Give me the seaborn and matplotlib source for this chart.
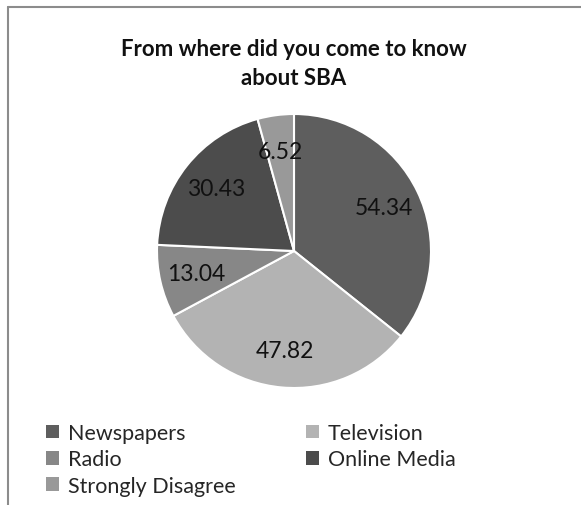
import matplotlib
matplotlib.use("Agg")
import matplotlib.pyplot as plt
import seaborn as sns
import numpy as np
from matplotlib.lines import Line2D
from matplotlib.patches import Patch

sns.set_theme(style="white")
plt.rcParams['font.family'] = ['Lato', 'DejaVu Sans']

categories = ["Newspapers", "Television", "Radio", "Online Media", "Strongly Disagree"]
values = [54.34, 47.82, 13.04, 30.43, 6.52]
labels = ["54.34", "47.82", "13.04", "30.43", "6.52"]
colors = ["#5e5e5e", "#b3b3b3", "#878787", "#4c4c4c", "#999999"]
title = "From where did you come to know\nabout SBA"

fig = plt.figure(figsize=(5.81, 5.06), dpi=100)
ax = fig.add_axes([(294 - 137) / 581, 1 - (252 + 137) / 506, 274 / 581, 274 / 506])

wedges, _ = ax.pie(values, colors=colors, startangle=90, counterclock=False,
                   wedgeprops=dict(edgecolor="white", linewidth=1.5))
for w, lab in zip(wedges, labels):
    mid = np.deg2rad((w.theta1 + w.theta2) / 2)
    r = 0.73
    ax.text(r * np.cos(mid), r * np.sin(mid), lab, ha="center", va="center",
            fontsize=16.5, color="#111111")
ax.set_aspect("equal")
ax.set_xlim(-1, 1)
ax.set_ylim(-1, 1)

fig.text(294 / 581, 1 - 64 / 506, title, ha="center", va="center",
         fontsize=16, fontweight="bold", linespacing=1.5, color="#111111")

order = [0, 2, 4, 1, 3]
handles = [Patch(facecolor=colors[i], edgecolor="none") for i in order]
fig.legend(handles, [categories[i] for i in order], loc="upper left",
           bbox_to_anchor=(46 / 581, 1 - 424 / 506),
           ncol=2, frameon=False, fontsize=15.5, handlelength=0.6, handleheight=0.6,
           handletextpad=0.4, columnspacing=3.3, labelspacing=0.3, borderpad=0,
           borderaxespad=0)

fig.add_artist(Line2D([8 / 581, 8 / 581], [0, 1 - 8 / 506], transform=fig.transFigure,
                      color="#8c8c8c", linewidth=1.5))
fig.add_artist(Line2D([8 / 581, 1], [1 - 8 / 506, 1 - 8 / 506], transform=fig.transFigure,
                      color="#8c8c8c", linewidth=1.5))

fig.savefig("out.png", dpi=100, facecolor="white")
